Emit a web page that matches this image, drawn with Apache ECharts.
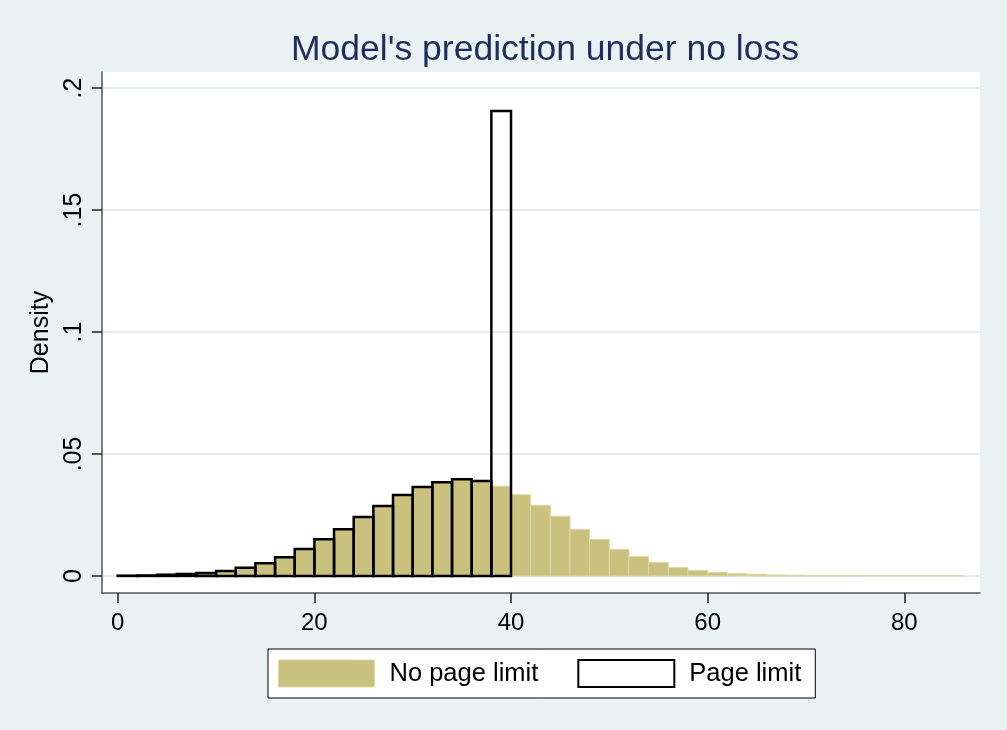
<!DOCTYPE html>
<html>
<head>
<meta charset="utf-8">
<script src="https://cdn.jsdelivr.net/npm/echarts@6/dist/echarts.min.js"></script>
<style>
  html, body { margin: 0; padding: 0; background: #E9F1F3; }
  #chart { width: 1007px; height: 730px; }
</style>
</head>
<body>
<div id="chart"></div>
<script>
// histogram bins, width 2
const binStarts = [0, 2, 4, 6, 8, 10, 12, 14, 16, 18, 20, 22, 24, 26, 28, 30, 32, 34, 36, 38,
  40, 42, 44, 46, 48, 50, 52, 54, 56, 58, 60, 62, 64, 66, 68, 70, 72, 74, 76, 78, 80, 82, 84]
const binWidth = 2

// density, no page limit (0..86)
const noPageLimit = [0.0001, 0.0002, 0.0005, 0.0008, 0.0012, 0.002, 0.0034, 0.0052, 0.0077, 0.011,
  0.015, 0.0191, 0.0242, 0.0287, 0.0332, 0.0365, 0.0384, 0.0396, 0.0389, 0.0368,
  0.0333, 0.029, 0.0245, 0.0191, 0.015, 0.0109, 0.0079, 0.0055, 0.0034, 0.0023,
  0.0014, 0.0009, 0.0007, 0.0004, 0.0003, 0.0002, 0.0002, 0.0002, 0.0001, 0.0001,
  0.0001, 0.0001, 0.0001]

// density, page limit (0..40)
const pageLimit = [0.0001, 0.0002, 0.0005, 0.0008, 0.0012, 0.002, 0.0034, 0.0052, 0.0077, 0.011,
  0.015, 0.0191, 0.0242, 0.0287, 0.0332, 0.0365, 0.0384, 0.0396, 0.0389, 0.1906]

const xTicks = [0, 20, 40, 60, 80]
const yTicks = [0, 0.05, 0.1, 0.15, 0.2]
const yTickLabels = ['0', '.05', '.1', '.15', '.2']

const khaki = '#C9C17D'

function toBins (values) {
  return values.map((v, i) => [binStarts[i], binStarts[i] + binWidth, v])
}

function renderBin (style) {
  return function (params, api) {
    const top = api.coord([api.value(0), api.value(2)])
    const base = api.coord([api.value(1), 0])
    return {
      type: 'rect',
      shape: { x: top[0], y: top[1], width: base[0] - top[0], height: base[1] - top[1] },
      style: style
    }
  }
}

const chart = echarts.init(document.getElementById('chart'))
const option = {
  backgroundColor: '#E9F1F3',
  animation: false,
  title: {
    text: "Model's prediction under no loss",
    left: 540,
    textAlign: 'center',
    top: 27,
    textStyle: {
      color: '#1F2D5A',
      fontFamily: 'Liberation Sans',
      fontWeight: 'normal',
      fontSize: 35.5
    }
  },
  grid: {
    left: 102,
    right: 27,
    top: 72,
    bottom: 137,
    show: true,
    backgroundColor: '#fff',
    borderWidth: 0
  },
  legend: {
    left: 268,
    top: 649,
    padding: [10, 14, 10, 10],
    backgroundColor: '#fff',
    borderColor: '#000',
    borderWidth: 1,
    borderRadius: 0,
    itemWidth: 96,
    itemHeight: 27,
    itemGap: 39,
    textStyle: {
      fontFamily: 'Liberation Sans',
      fontSize: 25.5,
      color: '#000',
      padding: [0, 0, 0, 10]
    },
    data: [
      { name: 'No page limit', icon: 'rect', itemStyle: { color: khaki, borderColor: '#DDD8AA', borderWidth: 1 } },
      { name: 'Page limit', icon: 'rect', itemStyle: { color: '#fff', borderColor: '#000', borderWidth: 2 } }
    ]
  },
  xAxis: {
    type: 'value',
    min: -1.6,
    max: 87.7,
    axisLine: { show: true, onZero: false, lineStyle: { color: '#555', width: 1.5 } },
    axisTick: { show: true, length: 10, customValues: xTicks, lineStyle: { color: '#222', width: 1.5 } },
    axisLabel: {
      customValues: xTicks,
      margin: 18,
      color: '#000',
      fontFamily: 'Liberation Sans',
      fontSize: 24
    },
    splitLine: { show: false }
  },
  yAxis: {
    type: 'value',
    min: -0.007,
    max: 0.2066,
    name: 'Density',
    nameLocation: 'middle',
    nameGap: 35,
    nameTextStyle: { color: '#000', fontFamily: 'Liberation Sans', fontSize: 25 },
    axisLine: { show: true, onZero: false, lineStyle: { color: '#555', width: 1.5 } },
    axisTick: { show: true, length: 10, customValues: yTicks, lineStyle: { color: '#222', width: 1.5 } },
    axisLabel: {
      customValues: yTicks,
      rotate: 90,
      margin: 15,
      color: '#000',
      fontFamily: 'Liberation Sans',
      fontSize: 25,
      formatter: v => yTickLabels[yTicks.findIndex(t => Math.abs(t - v) < 1e-9)] || ''
    },
    splitLine: { show: true, lineStyle: { color: '#E3ECEF', width: 2 } }
  },
  series: [
    {
      name: 'No page limit',
      type: 'custom',
      renderItem: renderBin({ fill: khaki, stroke: '#DDD8AA', lineWidth: 1 }),
      encode: { x: [0, 1], y: 2 },
      data: toBins(noPageLimit),
      z: 2
    },
    {
      name: 'Page limit',
      type: 'custom',
      renderItem: renderBin({ fill: 'none', stroke: '#000', lineWidth: 2.5 }),
      encode: { x: [0, 1], y: 2 },
      data: toBins(pageLimit),
      z: 3
    }
  ]
}
chart.setOption(option)
</script>
</body>
</html>
